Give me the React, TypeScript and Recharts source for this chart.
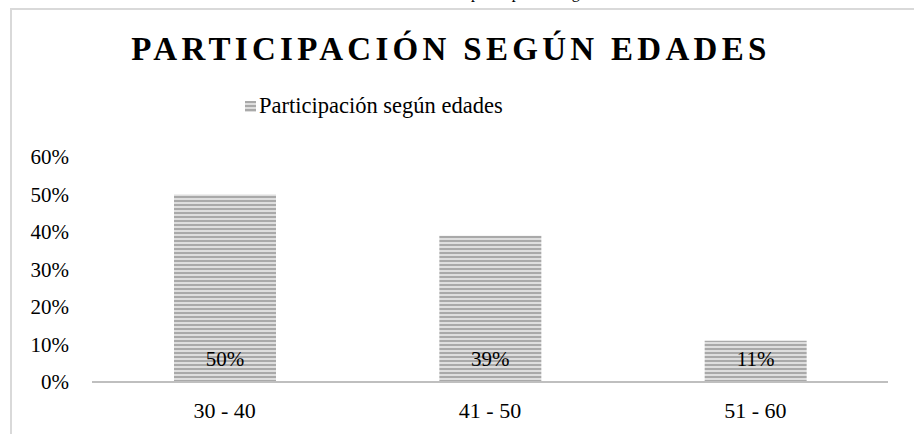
import { BarChart, Bar, XAxis, YAxis, LabelList } from "recharts";

const SERIF = "'Liberation Serif', 'Times New Roman', serif";
const AXIS_GRAY = "#bfbfbf";

// datos
const categories = ["30 - 40", "41 - 50", "51 - 60"];
const values = [0.5, 0.39, 0.11];
const yTicks = [0, 0.1, 0.2, 0.3, 0.4, 0.5, 0.6];
const seriesName = "Participación según edades";

const data = categories.map((c, i) => ({ edad: c, valor: values[i] }));

const pct = (v: number) => `${Math.round(v * 100)}%`;

export default function App() {
  return (
    <div style={{ position: "absolute", left: 0, top: 0, width: 914, height: 434, overflow: "hidden", background: "#fff", fontFamily: SERIF }}>
      {/* patrón de rayas horizontales */}
      <svg width={0} height={0} style={{ position: "absolute" }}>
        <defs>
          <pattern id="rayas" patternUnits="userSpaceOnUse" width={8} height={4}>
            <rect x={0} y={0} width={8} height={4} fill="#dedede" />
            <rect x={0} y={0} width={8} height={2} fill="#a9a9a9" />
          </pattern>
        </defs>
      </svg>

      {/* texto cortado arriba (viene de la página original) */}
      <div style={{ position: "absolute", left: 471, top: -15, fontSize: 16, lineHeight: "16px", whiteSpace: "nowrap", color: "#000" }}>
        participación según edades
      </div>

      {/* marco */}
      <div style={{ position: "absolute", left: 10, top: 8, width: 920, height: 440, borderLeft: "2px solid #d9d9d9", borderTop: "2px solid #d9d9d9" }} />

      <div style={{ position: "absolute", left: -6, top: 29, width: 914, textAlign: "center", fontSize: 33, fontWeight: "bold", letterSpacing: 4.3, lineHeight: "40px", color: "#000" }}>
        PARTICIPACIÓN SEGÚN EDADES
      </div>

      {/* leyenda */}
      <div style={{ position: "absolute", left: 245, top: 93, display: "flex", alignItems: "center", fontSize: 22.5, color: "#000", whiteSpace: "nowrap" }}>
        <svg width={12} height={11} style={{ marginRight: 2 }}>
          <rect x={0} y={0} width={11} height={11} fill="url(#rayas)" />
        </svg>
        {seriesName}
      </div>

      <div style={{ position: "absolute", left: 0, top: 0 }}>
        <BarChart width={914} height={434} data={data} margin={{ top: 157, right: 26, bottom: 22, left: 12 }}>
          <XAxis
            dataKey="edad"
            axisLine={{ stroke: AXIS_GRAY, strokeWidth: 2 }}
            tickLine={false}
            tickMargin={14}
            tick={{ fill: "#000", fontSize: 22, fontFamily: SERIF }}
          />
          <YAxis
            width={80}
            domain={[0, 0.6]}
            ticks={yTicks}
            tickFormatter={pct}
            axisLine={false}
            tickLine={false}
            tickMargin={17}
            tick={{ fill: "#000", fontSize: 21, fontFamily: SERIF }}
          />
          <Bar dataKey="valor" name={seriesName} fill="url(#rayas)" barSize={102} isAnimationActive={false}>
            <LabelList dataKey="valor" position="insideBottom" offset={16} formatter={(v: number) => pct(v)} style={{ fill: "#000", fontSize: 21, fontFamily: SERIF }} />
          </Bar>
        </BarChart>
      </div>
    </div>
  );
}
